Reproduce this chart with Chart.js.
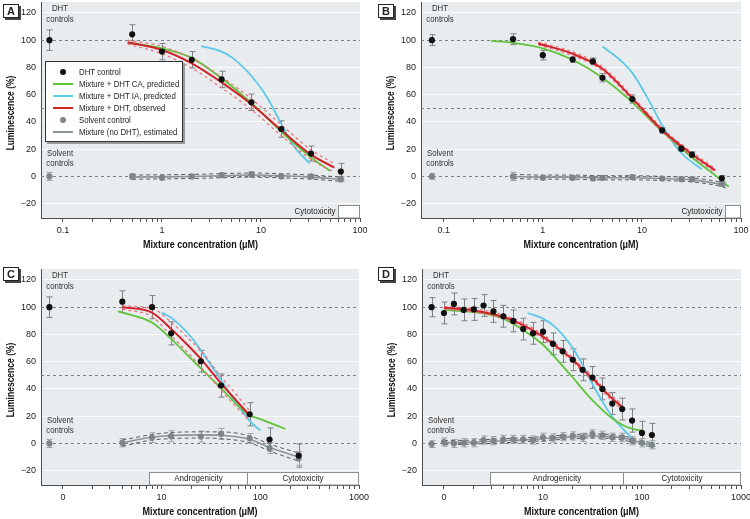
<!DOCTYPE html>
<html>
<head>
<meta charset="utf-8">
<script src="https://cdn.jsdelivr.net/npm/chart.js@4.4.1/dist/chart.umd.min.js"></script>
<style>
html, body { margin: 0; padding: 0; background: #fff; overflow: hidden; }
#page { position: relative; width: 750px; height: 519px; overflow: hidden;
        font-family: 'Liberation Sans', Arial, sans-serif; color: #222; }
.panel { position: absolute; width: 375px; height: 262px; }
.tag { position: absolute; width: 14px; height: 12px; border: 1px solid #222; background: #fff;
       box-shadow: 2px 2px 0 #444; font-weight: bold; font-size: 11px; line-height: 12px; text-align: center; }
#legend { position: absolute; left: 45px; top: 61px; width: 138px; height: 81px; background: #fff;
          border: 1px solid #333; box-shadow: 2px 2px 0 #9a9a9a; padding-top: 4px; box-sizing: border-box; }
.row { position: relative; height: 12px; font-size: 9.8px; line-height: 12px; }
.row .mk { position: absolute; }
.row .tx { position: absolute; left: 33px; white-space: nowrap; transform: scaleX(0.8); transform-origin: 0 50%; }
</style>
</head>
<body>
<div id="page">
  <div class="panel" style="left:0;top:-2px"><canvas id="cA" width="375" height="262"></canvas></div>
  <div class="panel" style="left:375px;top:-2px"><canvas id="cB" width="375" height="262"></canvas></div>
  <div class="panel" style="left:0;top:265px"><canvas id="cC" width="375" height="262"></canvas></div>
  <div class="panel" style="left:375px;top:265px"><canvas id="cD" width="375" height="262"></canvas></div>
  <div class="tag" style="left:3px;top:4px">A</div>
  <div class="tag" style="left:378px;top:4px">B</div>
  <div class="tag" style="left:3px;top:267px">C</div>
  <div class="tag" style="left:378px;top:267px">D</div>
  <div id="legend"></div>
</div>
<script>
const FONT = "'Liberation Sans', Arial, sans-serif";

// colours
const cDht = '#111111', cSolv = '#7d8588';
const cCA = '#5ec43a', cIA = '#5cc8ea', cObs = '#d2232a', cObsBand = '#e8707a';
const cEst = '#8c9497', cEstBand = '#555c60';

// shared y axis
const yTicks = [-20, 0, 20, 40, 60, 80, 100, 120];
const refLines = [0, 50, 100];

// x axis ticks
const abTicks = [0.1, 0.2, 0.3, 0.4, 0.5, 0.6, 0.7, 0.8, 0.9, 1, 2, 3, 4, 5, 6, 7, 8, 9,
                 10, 20, 30, 40, 50, 60, 70, 80, 90, 100];
const abMajor = [0.1, 1, 10, 100];
const abMajorLabels = ['0.1', '1', '10', '100'];
const cdTicks = [1, 2, 3, 4, 5, 6, 7, 8, 9, 10, 20, 30, 40, 50, 60, 70, 80, 90,
                 100, 200, 300, 400, 500, 600, 700, 800, 900, 1000];
const cdMajor = [1, 10, 100, 1000];
const cdMajorLabels = ['0', '10', '100', '1000'];

// ---------- panel A ----------
const aDotX = [0.073, 0.5, 1, 2, 4, 8, 16, 32, 64];
const aDht = [100, 104.3, 91.6, 85.6, 71.2, 54.4, 34.8, 16.8, 3.6];
const aDhtErr = [7.5, 7, 6, 6, 6, 6, 6, 5.5, 6];
const aSolv = [0, 0, -1, 0, 1, 1.5, 0, 0, -2];
const aSolvErr = [3, 2, 1.5, 1.5, 1.5, 2, 1.5, 1.5, 2];
const aCaX = [0.45, 1, 2, 4, 8, 16, 32, 50];
const aCaY = [98, 94, 87, 72, 54, 33, 14, 4];
const aIaX = [2.5, 4, 5.2, 8.3, 11.3, 16, 21, 31];
const aIaY = [95.7, 91.6, 86.8, 72.4, 59, 38.8, 23, 9.6];
const aObsX = [0.45, 1, 2, 4, 8, 16, 32, 55];
const aObsY = [98.5, 92.8, 83, 69, 53, 34, 16, 6.5];
const aObsHi = [100, 95.5, 86.5, 73, 57, 38, 19.5, 9.5];
const aObsLo = [97, 90, 79.5, 65, 49, 30, 12.5, 3];
const aEstX = [0.5, 1, 2, 4, 8, 16, 32, 64];
const aEstY = [-0.5, -0.3, 0, 0.5, 1, 0.5, -0.5, -2];
const aEstHi = [1, 1.2, 1.5, 2, 2.5, 2, 1, -0.5];
const aEstLo = [-2, -1.8, -1.5, -1, -0.5, -1, -2, -3.5];
const aBoxes = [{ from: 59.5, to: 100, label: 'Cytotoxicity', outside: true }];

// ---------- panel B ----------
const bDotX = [0.076, 0.5, 1, 2, 3.2, 4, 8, 16, 25, 32, 64];
const bDht = [100, 100.7, 89, 85.8, 84.4, 72.4, 56.8, 33.8, 20.4, 16, -1.4];
const bDhtErr = [4, 4, 3.5, 2, 2.5, 3, 3, 2, 2, 2, 2];
const bSolv = [0, 0, -1, -1, -1.5, -1, -0.5, -1.5, -2, -2, -5.5];
const bSolvErr = [2, 3, 1.5, 1.5, 1.5, 1.5, 1.5, 1.5, 1.5, 1.5, 1.5];
const bCaX = [0.3, 0.5, 1, 2, 4, 8, 16, 32, 64, 75];
const bCaY = [99.5, 98, 94, 85.6, 72.4, 54.4, 33, 13.9, -3, -7.5];
const bIaX = [4, 6, 8, 12, 16, 24, 40];
const bIaY = [95.4, 85.6, 76, 54.7, 37.6, 18.5, 5.3];
const bObsX = [0.9, 2, 4, 8, 16, 32, 55];
const bObsY = [97.6, 90, 79, 57.3, 34, 16.3, 4.5];
const bObsHi = [98.6, 91.5, 80.5, 58.8, 35.5, 17.8, 6];
const bObsLo = [96.6, 88.5, 77.5, 55.8, 32.5, 14.8, 3];
const bEstX = [0.5, 1, 2, 4, 8, 16, 32, 64, 70];
const bEstY = [0, -0.5, -0.5, -1, -1, -1.5, -2.5, -6, -7];
const bEstHi = [1.5, 1, 1, 0.5, 0.5, 0, -1, -4.5, -5.5];
const bEstLo = [-1.5, -2, -2, -2.5, -2.5, -3, -4, -7.5, -8.5];
const bBoxes = [{ from: 69, to: 100, label: 'Cytotoxicity', outside: true }];

// ---------- panel C ----------
const cDotX = [0.73, 4, 8, 12.5, 25, 40, 78, 124, 245];
const cDhtY = [100, 104, 100, 80.8, 60.3, 42.5, 21.4, 2.9, -8.9];
const cDhtErr = [7.5, 8, 8.5, 8.5, 8, 8.5, 8.5, 8.5, 8.5];
const cSolvY = [0, 0.5, 4.3, 5.3, 5, 7, 3.8, -3.4, -11];
const cSolvErr = [3, 3, 3.5, 4, 4, 4, 3.5, 4, 5];
const cCaX = [3.6, 4, 8, 12.5, 20, 25, 40, 60, 78, 100, 180];
const cCaY = [97, 96, 88.7, 76.7, 62, 55, 40.6, 27.4, 20.7, 17.8, 10.6];
const cIaX = [10, 12.5, 20, 25, 40, 60, 78, 100];
const cIaY = [96, 92.3, 77.9, 68.3, 46.6, 27.4, 16.6, 9.4];
const cObsX = [4, 8, 12.5, 20, 25, 40, 60, 78];
const cObsY = [100, 96, 84, 69.5, 62, 44, 29.8, 20.5];
const cObsHi = [101, 99, 89, 75, 68, 49, 34, 24];
const cObsLo = [98.5, 93, 79, 64, 56, 39, 25, 16.5];
const cEstX = [4, 8, 12.5, 25, 40, 78, 124, 245];
const cEstY = [0.5, 4.5, 5.8, 6.3, 6, 3, -3, -10];
const cEstHi = [2.5, 6.5, 8, 8.5, 8.5, 5.5, -0.5, -7];
const cEstLo = [-2, 2.5, 3.5, 4, 3.5, 0.5, -5.5, -13];
const cBoxes = [{ from: 7.5, to: 74, label: 'Androgenicity' },
                { from: 74, to: 1000, label: 'Cytotoxicity' }];

// ---------- panel D ----------
const dDotX = [0.75, 1, 1.26, 1.58, 2, 2.51, 3.16, 3.98, 5.01, 6.31, 7.94, 10, 12.6, 15.8,
               20, 25.1, 31.6, 39.8, 50.1, 63.1, 79.4, 100, 126];
const dDhtY = [100, 95.7, 102.4, 98, 98.3, 101.2, 96.9, 93.3, 89.9, 83.9, 80.8, 82, 73.1, 67.6,
               61.4, 54, 48.4, 40, 29.3, 25.2, 16.8, 7.7, 6.2];
const dDhtErr = [7, 8, 8, 8, 8, 8, 8, 8, 8, 8, 8, 8, 8, 8,
                 8, 8, 8, 8, 8, 8, 8.5, 8.5, 8.5];
const dSolvY = [-0.5, 1, 0, 0.5, 0.5, 2.5, 2, 3, 3, 3, 2.5, 4.5, 4, 5,
                5.5, 4.5, 7, 6, 4.5, 4.5, 2, 0.5, -1];
const dSolvErr = [2.5, 3, 3, 3, 3, 3, 3, 3, 3, 3, 3, 3, 3, 3,
                  3, 3, 3, 3, 3, 3, 3, 3, 3];
const dCaX = [1, 2, 3.16, 4, 6.3, 10, 15.8, 20, 25, 31.6, 40, 50, 63, 79, 99];
const dCaY = [98, 96.4, 94, 91.6, 83.2, 72.4, 56.8, 48.4, 40, 31.7, 24.5, 18.5, 13.7, 10.8, 9.4];
const dIaX = [7, 10, 12.6, 15.8, 20, 25, 31.6, 40, 50, 63, 79];
const dIaY = [95.7, 91.6, 86.8, 79.6, 70, 58, 43.6, 30.5, 19.7, 11.3, 4.1];
const dObsX = [1, 2, 4, 6.3, 10, 15.8, 20, 25, 31.6, 40, 50, 63];
const dObsY = [99.5, 97.6, 92.8, 86.8, 78.4, 67.6, 61.6, 54.4, 48, 40, 32.9, 26.9];
const dObsHi = [100.5, 98.8, 94.3, 88.4, 80, 69.2, 63.2, 56, 49.6, 41.7, 34.7, 28.9];
const dObsLo = [98.5, 96.4, 91.3, 85.2, 76.8, 66, 60, 52.8, 46.4, 38.3, 31.1, 24.9];
const dEstX = [1, 2, 4, 8, 16, 32, 50, 63, 80, 100, 125];
const dEstY = [0.5, 1, 2, 3, 4.5, 5.5, 5, 4, 2.5, 0.5, -1];
const dEstHi = [2, 2.5, 3.5, 4.5, 6, 7, 6.5, 5.5, 4, 2, 0.5];
const dEstLo = [-1, -0.5, 0.5, 1.5, 3, 4, 3.5, 2.5, 1, -1, -2.5];
const dBoxes = [{ from: 2.9, to: 64, label: 'Androgenicity' },
                { from: 64, to: 1000, label: 'Cytotoxicity' }];

// legend (panel A only)
const legendLabels = ['DHT control', 'Mixture + DHT CA, predicted', 'Mixture + DHT IA, predicted',
                      'Mixture + DHT, observed', 'Solvent control', 'Mixture (no DHT), estimated'];
const legendKinds = ['dot', 'line', 'line', 'line', 'dot', 'line'];
const legendColors = [cDht, cCA, cIA, cObs, cSolv, cEst];

function pts(xs, ys) {
    return xs.map((x, i) => ({ x: x, y: ys[i] }));
}

function lineSet(xs, ys, color, width, dash, order) {
    return {
        data: pts(xs, ys),
        borderColor: color,
        borderWidth: width,
        borderDash: dash,
        pointRadius: 0,
        fill: false,
        cubicInterpolationMode: 'monotone',
        order: order
    };
}

function dotSet(xs, ys, errs, color, barColor, order) {
    return {
        data: pts(xs, ys),
        showLine: false,
        pointRadius: 3.1,
        pointBackgroundColor: color,
        pointBorderColor: color,
        pointBorderWidth: 0,
        errors: errs,
        barColor: barColor,
        order: order
    };
}

// condensed text: the original uses a narrow typeface
function narrowText(ctx, text, x, y, align, sx) {
    ctx.save();
    ctx.translate(x, y);
    ctx.scale(sx, 1);
    ctx.textAlign = align;
    ctx.fillText(text, 0, 0);
    ctx.restore();
}

// draws background, reference lines, boxes, error bars and texts
function decorPlugin(p) {
    return {
        id: 'decor',
        beforeDraw(chart) {
            const a = chart.chartArea, ctx = chart.ctx;
            ctx.save();
            ctx.fillStyle = '#e8ecef';
            ctx.fillRect(a.left, a.top, a.right - a.left, a.bottom - a.top);
            ctx.restore();
        },
        beforeDatasetsDraw(chart) {
            const a = chart.chartArea, ctx = chart.ctx;
            const xs = chart.scales.x, ys = chart.scales.y;
            ctx.save();
            // dashed reference lines
            ctx.strokeStyle = '#7a7f82';
            ctx.lineWidth = 1;
            ctx.setLineDash([3, 3]);
            refLines.forEach(v => {
                const y = Math.round(ys.getPixelForValue(v)) + 0.5;
                ctx.beginPath();
                ctx.moveTo(a.left, y);
                ctx.lineTo(a.right, y);
                ctx.stroke();
            });
            ctx.setLineDash([]);
            // androgenicity / cytotoxicity boxes
            ctx.font = '9.8px ' + FONT;
            ctx.textBaseline = 'middle';
            p.boxes.forEach(b => {
                const x1 = Math.round(xs.getPixelForValue(b.from)) + 0.5;
                const x2 = Math.min(Math.round(xs.getPixelForValue(b.to)) + 0.5, a.right - 0.5);
                const y1 = Math.round(ys.getPixelForValue(-21.2)) + 0.5;
                const y2 = a.bottom;
                ctx.fillStyle = '#fff';
                ctx.fillRect(x1, y1, x2 - x1, y2 - y1);
                ctx.strokeStyle = '#8a8e90';
                ctx.strokeRect(x1, y1, x2 - x1, y2 - y1);
                ctx.fillStyle = '#222';
                if (b.outside) {
                    narrowText(ctx, b.label, x1 - 3, (y1 + y2) / 2, 'right', 0.82);
                } else {
                    narrowText(ctx, b.label, (x1 + x2) / 2, (y1 + y2) / 2, 'center', 0.82);
                }
            });
            // error bars
            chart.data.datasets.forEach((d, i) => {
                if (!d.errors) return;
                const meta = chart.getDatasetMeta(i);
                ctx.strokeStyle = d.barColor;
                ctx.lineWidth = 1;
                meta.data.forEach((el, j) => {
                    const v = d.data[j].y, e = d.errors[j];
                    const t = ys.getPixelForValue(v + e), bt = ys.getPixelForValue(v - e);
                    const x = Math.round(el.x) + 0.5;
                    ctx.beginPath();
                    ctx.moveTo(x, t); ctx.lineTo(x, bt);
                    ctx.moveTo(x - 3, t); ctx.lineTo(x + 3, t);
                    ctx.moveTo(x - 3, bt); ctx.lineTo(x + 3, bt);
                    ctx.stroke();
                });
            });
            ctx.restore();
        },
        afterDraw(chart) {
            const a = chart.chartArea, ctx = chart.ctx, ys = chart.scales.y;
            ctx.save();
            ctx.fillStyle = '#333';
            ctx.font = '9.8px ' + FONT;
            ctx.textBaseline = 'middle';
            const tx = a.left + 19;
            narrowText(ctx, 'DHT', tx, ys.getPixelForValue(123.5), 'center', 0.8);
            narrowText(ctx, 'controls', tx, ys.getPixelForValue(115.5), 'center', 0.8);
            narrowText(ctx, 'Solvent', tx, ys.getPixelForValue(17), 'center', 0.8);
            narrowText(ctx, 'controls', tx, ys.getPixelForValue(9.3), 'center', 0.8);
            // axis titles
            ctx.fillStyle = '#111';
            ctx.font = 'bold 11.5px ' + FONT;
            narrowText(ctx, 'Mixture concentration (\u03BCM)', (a.left + a.right) / 2, a.bottom + 27, 'center', 0.78);
            ctx.translate(a.left - 30, (a.top + a.bottom) / 2 + 3);
            ctx.rotate(-Math.PI / 2);
            narrowText(ctx, 'Luminescence (%)', 0, 0, 'center', 0.74);
            ctx.restore();
        }
    };
}

function makePanel(id, p) {
    const ctx = document.getElementById(id).getContext('2d');
    const datasets = [
        dotSet(p.dotX, p.dht, p.dhtErr, cDht, '#7c8184', 0),
        dotSet(p.dotX, p.solv, p.solvErr, cSolv, '#9ba1a4', 1),
        lineSet(p.obsX, p.obsY, cObs, 2, [], 2),
        lineSet(p.obsX, p.obsHi, cObsBand, 1.2, [3, 3], 3),
        lineSet(p.obsX, p.obsLo, cObsBand, 1.2, [3, 3], 3),
        lineSet(p.caX, p.caY, cCA, 1.8, [], 4),
        lineSet(p.iaX, p.iaY, cIA, 1.8, [], 4),
        lineSet(p.estX, p.estY, cEst, 1.6, [], 5),
        lineSet(p.estX, p.estHi, cEstBand, 1, [4, 3], 6),
        lineSet(p.estX, p.estLo, cEstBand, 1, [4, 3], 6)
    ];
    return new Chart(ctx, {
        type: 'line',
        data: { datasets: datasets },
        options: {
            responsive: false,
            animation: false,
            devicePixelRatio: 1,
            layout: { padding: { left: 0, right: p.padRight, top: 0, bottom: 0 } },
            plugins: { legend: { display: false }, tooltip: { enabled: false } },
            scales: {
                x: {
                    type: 'logarithmic',
                    min: p.xMin,
                    max: p.xMax,
                    border: { display: true, color: '#4a4e50', width: 1 },
                    grid: { drawOnChartArea: false, drawTicks: true, tickLength: 4, color: '#4a4e50' },
                    ticks: {
                        autoSkip: false,
                        maxRotation: 0,
                        padding: 3,
                        color: '#222',
                        font: { family: FONT, size: 9 },
                        callback: function(value) {
                            const i = p.major.findIndex(m => Math.abs(m - value) < m * 1e-6);
                            return i >= 0 ? p.majorLabels[i] : '';
                        }
                    },
                    afterBuildTicks: function(scale) {
                        scale.ticks = p.xTicks.map(v => ({ value: v }));
                    },
                    afterFit: function(scale) {
                        scale.height = 42;
                        scale.paddingLeft = 0;
                        scale.paddingRight = 0;
                    }
                },
                y: {
                    type: 'linear',
                    min: -30.5,
                    max: 128,
                    border: { display: true, color: '#4a4e50', width: 1 },
                    grid: {
                        drawTicks: false,
                        color: function(c) {
                            const v = c.tick ? c.tick.value : null;
                            return (v === 0 || v === 100) ? 'rgba(0,0,0,0)' : '#fbfcfd';
                        }
                    },
                    ticks: {
                        padding: 5,
                        color: '#222',
                        font: { family: FONT, size: 9 },
                        callback: function(value) {
                            return value < 0 ? '\u2212' + Math.abs(value) : String(value);
                        }
                    },
                    afterBuildTicks: function(scale) {
                        scale.ticks = yTicks.map(v => ({ value: v }));
                    },
                    afterFit: function(scale) {
                        scale.width = p.yAxisW;
                        scale.paddingTop = 0;
                        scale.paddingBottom = 0;
                    }
                }
            }
        },
        plugins: [decorPlugin(p)]
    });
}

makePanel('cA', {
    dotX: aDotX, dht: aDht, dhtErr: aDhtErr, solv: aSolv, solvErr: aSolvErr,
    caX: aCaX, caY: aCaY, iaX: aIaX, iaY: aIaY,
    obsX: aObsX, obsY: aObsY, obsHi: aObsHi, obsLo: aObsLo,
    estX: aEstX, estY: aEstY, estHi: aEstHi, estLo: aEstLo,
    xMin: 0.06, xMax: 100, xTicks: abTicks, major: abMajor, majorLabels: abMajorLabels,
    yAxisW: 41, padRight: 15, boxes: aBoxes
});
makePanel('cB', {
    dotX: bDotX, dht: bDht, dhtErr: bDhtErr, solv: bSolv, solvErr: bSolvErr,
    caX: bCaX, caY: bCaY, iaX: bIaX, iaY: bIaY,
    obsX: bObsX, obsY: bObsY, obsHi: bObsHi, obsLo: bObsLo,
    estX: bEstX, estY: bEstY, estHi: bEstHi, estLo: bEstLo,
    xMin: 0.059, xMax: 100, xTicks: abTicks, major: abMajor, majorLabels: abMajorLabels,
    yAxisW: 46, padRight: 9, boxes: bBoxes
});
makePanel('cC', {
    dotX: cDotX, dht: cDhtY, dhtErr: cDhtErr, solv: cSolvY, solvErr: cSolvErr,
    caX: cCaX, caY: cCaY, iaX: cIaX, iaY: cIaY,
    obsX: cObsX, obsY: cObsY, obsHi: cObsHi, obsLo: cObsLo,
    estX: cEstX, estY: cEstY, estHi: cEstHi, estLo: cEstLo,
    xMin: 0.6, xMax: 1000, xTicks: cdTicks, major: cdMajor, majorLabels: cdMajorLabels,
    yAxisW: 41, padRight: 16, boxes: cBoxes
});
makePanel('cD', {
    dotX: dDotX, dht: dDhtY, dhtErr: dDhtErr, solv: dSolvY, solvErr: dSolvErr,
    caX: dCaX, caY: dCaY, iaX: dIaX, iaY: dIaY,
    obsX: dObsX, obsY: dObsY, obsHi: dObsHi, obsLo: dObsLo,
    estX: dEstX, estY: dEstY, estHi: dEstHi, estLo: dEstLo,
    xMin: 0.6, xMax: 1000, xTicks: cdTicks, major: cdMajor, majorLabels: cdMajorLabels,
    yAxisW: 47, padRight: 9, boxes: dBoxes
});

// HTML legend inside panel A
const legend = document.getElementById('legend');
legendLabels.forEach((label, i) => {
    const row = document.createElement('div');
    row.className = 'row';
    const mk = document.createElement('span');
    mk.className = 'mk';
    if (legendKinds[i] === 'dot') {
        mk.style.cssText = 'left:14px;top:3px;width:6px;height:6px;border-radius:50%;background:' + legendColors[i];
    } else {
        mk.style.cssText = 'left:7px;top:5px;width:20px;height:2px;background:' + legendColors[i];
    }
    const tx = document.createElement('span');
    tx.className = 'tx';
    tx.textContent = label;
    row.appendChild(mk);
    row.appendChild(tx);
    legend.appendChild(row);
});
</script>
</body>
</html>
